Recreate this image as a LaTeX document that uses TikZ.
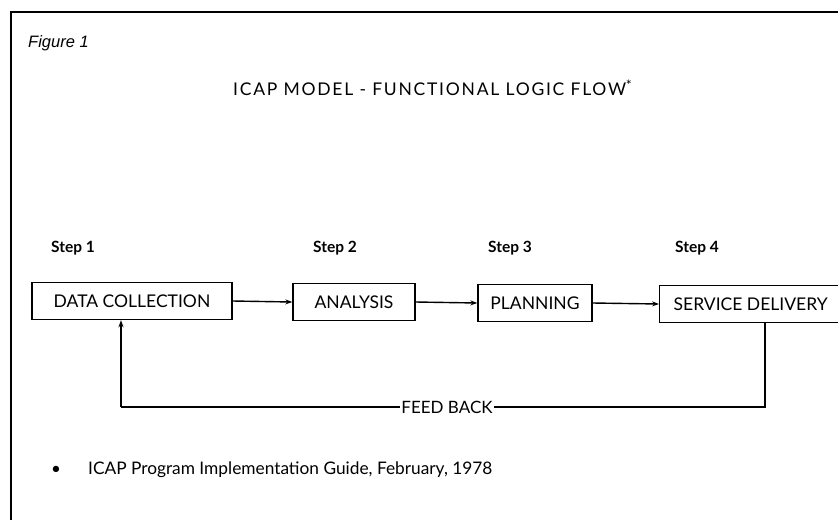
\documentclass[tikz,border=0pt]{standalone}
\usepackage{fontspec}
\setmainfont{Lato}
\newfontfamily\figfont{Liberation Sans}
\usetikzlibrary{arrows.meta}
\begin{document}
\begin{tikzpicture}[x=1pt,y=-1pt,
  stepbox/.style={draw,line width=1.4pt,minimum height=37pt,inner sep=0pt,font=\fontsize{17.5}{20}\selectfont},
  steplabel/.style={anchor=west,inner sep=0pt,font=\bfseries\fontsize{15.5}{17}\selectfont},
  flow/.style={line width=1.4pt,-{Stealth[length=7pt,width=5pt]}},
  link/.style={line width=1.4pt}]
\useasboundingbox (0,0) rectangle (838,520);
\draw[line width=1.5pt] (838,12) -- (11,12) -- (11,520);
\node[anchor=west,inner sep=0pt,font=\figfont\itshape\fontsize{16.5}{19}\selectfont] (fig) at (28,43) {Figure 1};
\node[anchor=west,inner sep=0pt,font=\fontsize{17.5}{20}\selectfont\addfontfeature{LetterSpace=10}] (title) at (233,88) {ICAP MODEL - FUNCTIONAL LOGIC FLOW\raisebox{5pt}{\fontsize{14}{14}\selectfont *}};
\node[steplabel] (s1) at (51,248) {Step 1};
\node[steplabel] (s2) at (313,248) {Step 2};
\node[steplabel] (s3) at (488,248) {Step 3};
\node[steplabel] (s4) at (675,248) {Step 4};
\node[stepbox,minimum width=200pt] (dc) at (132,301) {DATA COLLECTION};
\node[stepbox,minimum width=122pt] (an) at (354,302) {ANALYSIS};
\node[stepbox,minimum width=114pt] (pl) at (535,303) {PLANNING};
\node[stepbox,anchor=west,inner xsep=14pt] (sd) at (659,304) {SERVICE DELIVERY};
\draw[flow] (dc.east) -- (an.west);
\draw[flow] (an.east) -- (pl.west);
\draw[flow] (pl.east) -- (sd.west);
\node[font=\fontsize{17}{19}\selectfont,inner sep=1pt] (fb) at (447,407) {FEED BACK};
\coordinate (r) at (765,407);
\coordinate (l) at (121,407);
\draw[link] (sd.south -| r) -- (r) -- (fb.east);
\draw[link] (fb.west) -- (l);
\draw[flow] (l) -- (dc.south -| l);
\node[inner sep=0pt,font=\fontsize{17}{19}\selectfont] (bul) at (56,470) {\textbullet};
\node[anchor=west,inner sep=0pt,font=\fontsize{17.3}{19}\selectfont] (fn) at (88,470) {ICAP Program Implementation Guide, February, 1978};
\end{tikzpicture}
\end{document}
